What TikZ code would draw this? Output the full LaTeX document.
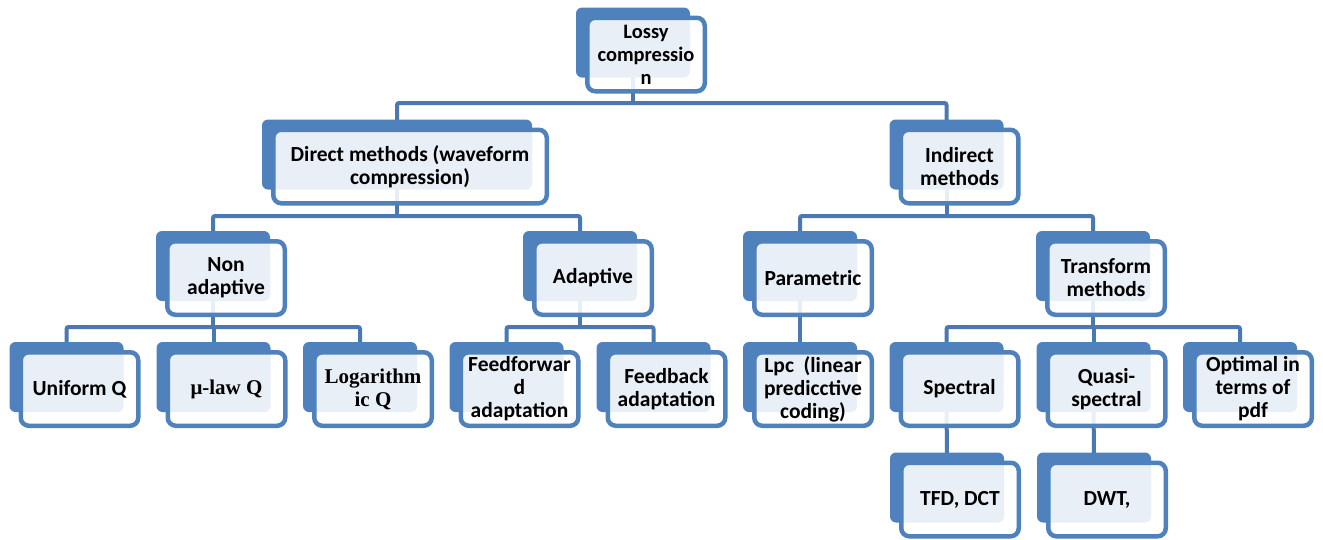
\documentclass[tikz,border=0pt]{standalone}
\usepackage{fontspec}
\setmainfont{Carlito}
\newfontfamily\serifbf{Liberation Serif}
\usetikzlibrary{calc}
\pgfdeclarelayer{bg}
\pgfsetlayers{bg,main}

\definecolor{boxblue}{HTML}{4F81BD}
\definecolor{linkblue}{HTML}{4A78B2}

\newcommand\labelfont{\fontsize{21.5}{23}\selectfont\bfseries}
\newcommand\toplabel{\fontsize{20.5}{22.5}\selectfont\bfseries}
\newcommand\seriflabel{\serifbf\fontsize{21}{24}\selectfont\bfseries}

% back plate (solid) and front card (translucent white, blue rim)
\newcommand\pairbox[5][114]{%
  \node[backplate, minimum width=#1pt] (#2-b) at (#3,#4) {};
  \node[frontcard, minimum width=#1pt+3.5pt] (#2) at ([shift={(13,12)}]#2-b.center) {#5};
}

\begin{document}
\begin{tikzpicture}[x=1pt, y=-1pt,
  backplate/.style={fill=boxblue, rounded corners=6pt, minimum height=70pt, inner sep=0pt},
  frontcard/.style={draw=boxblue, line width=4.5pt, fill=white, fill opacity=0.88,
    text opacity=1, rounded corners=8pt, minimum height=73.5pt, inner sep=0pt,
    align=center, font=\labelfont},
  link/.style={draw=linkblue, line width=4pt, rounded corners=2pt}]
\useasboundingbox (0,0) rectangle (1323,539);

% level 1
\pairbox{lossy}{633}{42.5}{\toplabel Lossy\\\toplabel compressio\\\toplabel n}
% level 2
\pairbox[270]{direct}{397}{154.5}{Direct methods (waveform\\compression)}
\pairbox{indirect}{946.5}{154.5}{Indirect\\methods}
% level 3
\pairbox{nonad}{213}{266}{Non\\adaptive}
\pairbox{adapt}{580}{266}{Adaptive}
\pairbox{param}{800}{266}{Parametric}
\pairbox{transf}{1093}{266}{Transform\\methods}
% level 4
\pairbox{unif}{66.5}{377}{Uniform Q}
\pairbox{mulaw}{213.5}{377}{\seriflabel μ-law Q}
\pairbox{logq}{360}{377}{\seriflabel Logarithm\\\seriflabel ic Q}
\pairbox{ffwd}{506.5}{377}{Feedforwar\\d\\adaptation}
\pairbox{fback}{653.5}{377}{Feedback\\adaptation}
\pairbox{lpc}{800}{377}{Lpc~~(linear\\predicctive\\coding)}
\pairbox{spec}{946.5}{377}{Spectral}
\pairbox{quasi}{1093.5}{377}{Quasi-\\spectral}
\pairbox{optim}{1240}{377}{Optimal in\\terms of\\pdf}
% level 5
\pairbox{tfd}{947}{487.5}{TFD, DCT}
\pairbox{dwt}{1094}{487.5}{DWT,}

% bus heights
\coordinate (bus1) at (0,103);
\coordinate (bus2) at (0,216);
\coordinate (bus3) at (0,327);

\begin{pgfonlayer}{bg}
  \draw[link] (lossy-b.center) -- (lossy-b.center |- bus1);
  \draw[link] (direct-b.center) -- (direct-b.center |- bus1) -- (indirect-b.center |- bus1) -- (indirect-b.center);

  \draw[link] (direct-b.center) -- (direct-b.center |- bus2);
  \draw[link] (nonad-b.center) -- (nonad-b.center |- bus2) -- (adapt-b.center |- bus2) -- (adapt-b.center);
  \draw[link] (indirect-b.center) -- (indirect-b.center |- bus2);
  \draw[link] (param-b.center) -- (param-b.center |- bus2) -- (transf-b.center |- bus2) -- (transf-b.center);

  \draw[link] (nonad-b.center) -- (nonad-b.center |- bus3);
  \draw[link] (unif-b.center) -- (unif-b.center |- bus3) -- (logq-b.center |- bus3) -- (logq-b.center);
  \draw[link] (mulaw-b.center |- bus3) -- (mulaw-b.center);
  \draw[link] (adapt-b.center) -- (adapt-b.center |- bus3);
  \draw[link] (ffwd-b.center) -- (ffwd-b.center |- bus3) -- (fback-b.center |- bus3) -- (fback-b.center);
  \draw[link] (param-b.center) -- (lpc-b.center);
  \draw[link] (transf-b.center) -- (transf-b.center |- bus3);
  \draw[link] (spec-b.center) -- (spec-b.center |- bus3) -- (optim-b.center |- bus3) -- (optim-b.center);
  \draw[link] (quasi-b.center |- bus3) -- (quasi-b.center);

  \draw[link] (spec-b.center) -- (tfd-b.center);
  \draw[link] (quasi-b.center) -- (dwt-b.center);
\end{pgfonlayer}
\end{tikzpicture}
\end{document}
